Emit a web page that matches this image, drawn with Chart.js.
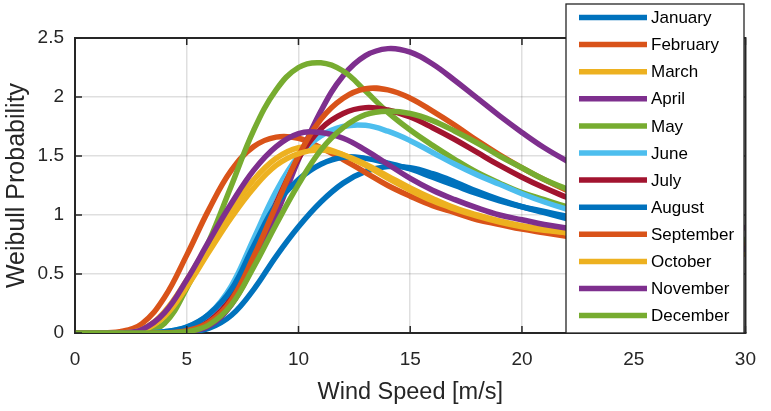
<!DOCTYPE html>
<html>
<head>
<meta charset="utf-8">
<script src="https://cdn.jsdelivr.net/npm/chart.js@4.4.1/dist/chart.umd.min.js"></script>
<style>
  body { margin: 0; background: #fff; }
  canvas { display: block; }
</style>
</head>
<body>
<canvas id="weibullChart" width="771" height="411"></canvas>
<script>
// Wind speed samples [m/s]
const windSpeed = [0, 1, 2, 3, 4, 5, 6, 7, 8, 9, 10, 11, 12, 13, 14, 15, 16, 17, 18, 19, 20, 21, 22, 23, 24, 25, 26, 27, 28, 29, 30];

const months = ['January', 'February', 'March', 'April', 'May', 'June', 'July',
    'August', 'September', 'October', 'November', 'December'];

// Weibull probability per month at each wind speed
const jan = [0, 0, 0, 0, 0, 0.01, 0.04, 0.15, 0.37, 0.65, 0.9, 1.11, 1.27, 1.37, 1.41, 1.4, 1.35, 1.28, 1.2, 1.13, 1.07, 1.02, 0.97, 0.93, 0.9, 0.87, 0.84, 0.81, 0.79, 0.77, 0.75];
const feb = [0, 0, 0.01, 0.08, 0.3, 0.66, 1.05, 1.38, 1.58, 1.66, 1.65, 1.57, 1.47, 1.36, 1.25, 1.16, 1.08, 1.02, 0.96, 0.92, 0.88, 0.85, 0.82, 0.79, 0.77, 0.75, 0.73, 0.71, 0.7, 0.68, 0.67];
const mar = [0, 0, 0, 0.03, 0.18, 0.45, 0.76, 1.05, 1.3, 1.48, 1.57, 1.57, 1.51, 1.42, 1.31, 1.21, 1.12, 1.05, 0.99, 0.94, 0.9, 0.87, 0.85, 0.82, 0.8, 0.78, 0.76, 0.74, 0.72, 0.7, 0.69];
const apr = [0, 0, 0, 0, 0, 0.01, 0.06, 0.24, 0.58, 1.0, 1.47, 1.88, 2.18, 2.35, 2.41, 2.38, 2.28, 2.14, 1.99, 1.84, 1.7, 1.57, 1.46, 1.36, 1.27, 1.19, 1.12, 1.05, 0.99, 0.94, 0.89];
const may = [0, 0, 0, 0.01, 0.08, 0.38, 0.78, 1.25, 1.72, 2.06, 2.25, 2.29, 2.22, 2.05, 1.87, 1.72, 1.59, 1.47, 1.36, 1.27, 1.19, 1.13, 1.07, 1.02, 0.97, 0.93, 0.89, 0.86, 0.83, 0.8, 0.78];
const jun = [0, 0, 0, 0, 0.01, 0.05, 0.16, 0.4, 0.8, 1.2, 1.5, 1.67, 1.75, 1.76, 1.71, 1.63, 1.53, 1.43, 1.34, 1.26, 1.18, 1.11, 1.05, 1.0, 0.96, 0.92, 0.88, 0.85, 0.82, 0.8, 0.78];
const jul = [0, 0, 0, 0, 0, 0.02, 0.1, 0.3, 0.68, 1.1, 1.48, 1.73, 1.86, 1.91, 1.89, 1.83, 1.74, 1.64, 1.53, 1.42, 1.32, 1.23, 1.15, 1.07, 1.0, 0.94, 0.89, 0.84, 0.8, 0.77, 0.74];
const aug = [0, 0, 0, 0, 0.01, 0.05, 0.16, 0.37, 0.74, 1.09, 1.3, 1.43, 1.49, 1.48, 1.44, 1.39, 1.32, 1.25, 1.18, 1.12, 1.07, 1.03, 0.99, 0.95, 0.92, 0.89, 0.86, 0.83, 0.81, 0.79, 0.77];
const sep = [0, 0, 0, 0, 0, 0.02, 0.09, 0.28, 0.65, 1.08, 1.5, 1.81, 1.99, 2.07, 2.06, 1.99, 1.88, 1.76, 1.63, 1.51, 1.4, 1.3, 1.21, 1.13, 1.06, 1.0, 0.94, 0.89, 0.84, 0.8, 0.76];
const oct = [0, 0, 0, 0.02, 0.14, 0.39, 0.69, 0.98, 1.23, 1.42, 1.52, 1.55, 1.51, 1.43, 1.33, 1.23, 1.14, 1.06, 1.0, 0.95, 0.91, 0.88, 0.85, 0.82, 0.8, 0.78, 0.76, 0.74, 0.72, 0.7, 0.68];
const nov = [0, 0, 0, 0.03, 0.17, 0.45, 0.78, 1.1, 1.38, 1.58, 1.69, 1.7, 1.65, 1.55, 1.43, 1.31, 1.21, 1.13, 1.06, 1.0, 0.96, 0.92, 0.89, 0.86, 0.83, 0.81, 0.79, 0.77, 0.75, 0.73, 0.71];
const dec = [0, 0, 0, 0, 0, 0.01, 0.07, 0.24, 0.56, 0.92, 1.26, 1.55, 1.74, 1.85, 1.88, 1.86, 1.8, 1.71, 1.61, 1.5, 1.4, 1.3, 1.22, 1.14, 1.07, 1.01, 0.95, 0.9, 0.86, 0.82, 0.79];

const xTicks = [0, 5, 10, 15, 20, 25, 30];
const yTicks = [0, 0.5, 1, 1.5, 2, 2.5];
const yTickLabels = ['0', '0.5', '1', '1.5', '2', '2.5'];

// MATLAB default line colours, cycled
const palette = ['#0072BD', '#D95319', '#EDB120', '#7E2F8E', '#77AC30', '#4DBEEE', '#A2142F'];

const FONT = "'Liberation Sans', Arial, Helvetica, sans-serif";
const AXIS_COLOR = '#262626';
const LINE_W = 5.5;

const series = [jan, feb, mar, apr, may, jun, jul, aug, sep, oct, nov, dec];
const datasets = series.map((vals, i) => ({
    label: months[i],
    data: vals.map((v, k) => ({ x: windSpeed[k], y: v })),
    borderColor: palette[i % palette.length],
    backgroundColor: palette[i % palette.length],
    borderWidth: LINE_W,
    pointRadius: 0,
    fill: false,
    tension: 0.4,
    order: series.length - i   // later months drawn on top, like MATLAB
}));

// top/right box lines and inward tick marks
const boxPlugin = {
    id: 'box',
    afterDraw(chart) {
        const { ctx, chartArea: a, scales: { x, y } } = chart;
        ctx.save();
        ctx.strokeStyle = AXIS_COLOR;
        ctx.lineWidth = 2;
        ctx.beginPath();
        ctx.moveTo(a.left, a.top);
        ctx.lineTo(a.right, a.top);
        ctx.lineTo(a.right, a.bottom);
        ctx.stroke();
        ctx.lineWidth = 1.5;
        const len = 7;
        ctx.beginPath();
        xTicks.forEach(v => {
            const px = x.getPixelForValue(v);
            ctx.moveTo(px, a.bottom); ctx.lineTo(px, a.bottom - len);
            ctx.moveTo(px, a.top); ctx.lineTo(px, a.top + len);
        });
        yTicks.forEach(v => {
            const py = y.getPixelForValue(v);
            ctx.moveTo(a.left, py); ctx.lineTo(a.left + len, py);
            ctx.moveTo(a.right, py); ctx.lineTo(a.right - len, py);
        });
        ctx.stroke();
        ctx.restore();
    }
};

// boxed legend in the upper right, overlapping the axes
const legendPlugin = {
    id: 'boxLegend',
    afterDraw(chart) {
        const ctx = chart.ctx;
        const left = 566, top = 4, width = 178, height = 329;
        const rowY0 = 13.5, rowStep = 27.1;
        ctx.save();
        ctx.fillStyle = '#fff';
        ctx.fillRect(left, top, width, height);
        ctx.strokeStyle = AXIS_COLOR;
        ctx.lineWidth = 1.3;
        ctx.strokeRect(left, top, width, height);
        ctx.font = '17px ' + FONT;
        ctx.textBaseline = 'middle';
        ctx.textAlign = 'left';
        chart.data.datasets.forEach((ds, i) => {
            const yy = top + rowY0 + i * rowStep;
            ctx.strokeStyle = ds.borderColor;
            ctx.lineWidth = LINE_W;
            ctx.beginPath();
            ctx.moveTo(579, yy);
            ctx.lineTo(647, yy);
            ctx.stroke();
            ctx.fillStyle = '#000';
            ctx.fillText(ds.label, 651, yy + 1);
        });
        ctx.restore();
    }
};

const ctx = document.getElementById('weibullChart').getContext('2d');
new Chart(ctx, {
    type: 'line',
    data: { datasets: datasets },
    options: {
        responsive: false,
        animation: false,
        events: [],
        layout: { padding: { top: 38, right: 14, left: 0, bottom: 0 } },
        plugins: {
            legend: { display: false },
            tooltip: { enabled: false }
        },
        scales: {
            x: {
                type: 'linear',
                min: 0,
                max: 30,
                afterBuildTicks: s => { s.ticks = xTicks.map(v => ({ value: v })); },
                afterFit: s => { s.height = 78; },
                ticks: {
                    color: AXIS_COLOR,
                    padding: 15,
                    maxRotation: 0,
                    font: { family: FONT, size: 19 }
                },
                grid: { color: 'rgba(38,38,38,0.15)', lineWidth: 1.5, drawTicks: false },
                border: { display: true, color: AXIS_COLOR, width: 2 },
                title: {
                    display: true,
                    text: 'Wind Speed [m/s]',
                    color: AXIS_COLOR,
                    font: { family: FONT, size: 23.5 },
                    padding: { top: 0, bottom: 4 }
                }
            },
            y: {
                type: 'linear',
                min: 0,
                max: 2.5,
                afterBuildTicks: s => { s.ticks = yTicks.map(v => ({ value: v })); },
                afterFit: s => { s.width = 75; },
                ticks: {
                    color: AXIS_COLOR,
                    padding: 11,
                    font: { family: FONT, size: 19 },
                    callback: (v, i) => yTickLabels[i]
                },
                grid: { color: 'rgba(38,38,38,0.15)', lineWidth: 1.5, drawTicks: false },
                border: { display: true, color: AXIS_COLOR, width: 2 },
                title: {
                    display: true,
                    text: 'Weibull Probability',
                    color: AXIS_COLOR,
                    font: { family: FONT, size: 25 },
                    padding: { top: 2, bottom: 0 }
                }
            }
        }
    },
    plugins: [boxPlugin, legendPlugin]
});
</script>
</body>
</html>
